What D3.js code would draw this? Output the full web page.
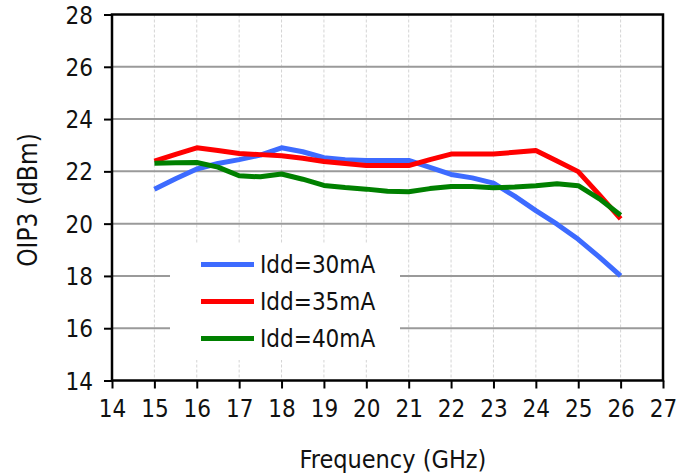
<!DOCTYPE html>
<html><head><meta charset="utf-8">
<script src="https://cdn.jsdelivr.net/npm/d3@7/dist/d3.min.js"></script>
<style>body{margin:0;background:#fff}svg{display:block}text{font-family:"DejaVu Sans Condensed","DejaVu Sans",sans-serif;fill:#111}</style>
</head><body><svg id="c" width="682" height="474"></svg>
<script>
const freqs = [15,15.5,16,16.5,17,17.5,18,18.5,19,19.5,20,20.5,21,21.5,22,22.5,23,23.5,24,24.5,25,25.5,26];
const idd30 = [21.32,21.72,22.09,22.30,22.45,22.62,22.90,22.75,22.52,22.44,22.42,22.42,22.42,22.15,21.88,21.75,21.55,21.05,20.50,19.98,19.40,18.72,18.00];
const idd35 = [22.39,22.65,22.90,22.80,22.68,22.64,22.60,22.50,22.38,22.30,22.22,22.22,22.22,22.45,22.66,22.66,22.66,22.73,22.80,22.40,21.99,21.10,20.18];
const idd40 = [22.31,22.33,22.34,22.16,21.83,21.79,21.90,21.70,21.46,21.38,21.32,21.24,21.22,21.34,21.42,21.42,21.37,21.40,21.45,21.53,21.45,20.95,20.32];
const seriesNames = ["Idd=30mA","Idd=35mA","Idd=40mA"];
const seriesColors = ["#3d6bff","#ff0000","#008000"];
const xTicks = d3.range(14,28,1);
const yTicks = d3.range(14,29,2);

const svg = d3.select("#c");
const L=112,R=663,T=14.5,B=380.5;
const x = d3.scaleLinear().domain([14,27]).range([L,R]);
const y = d3.scaleLinear().domain([14,28]).range([B,T]);

svg.append("g").selectAll("line").data(xTicks.filter(d=>d>14&&d<27)).join("line")
  .attr("x1",d=>x(d)).attr("x2",d=>x(d)).attr("y1",T).attr("y2",B)
  .attr("stroke","#d4d4d4").attr("stroke-width",1).attr("stroke-dasharray","3,2");
svg.append("g").selectAll("line").data(yTicks.filter(d=>d>14&&d<28)).join("line")
  .attr("x1",L).attr("x2",R).attr("y1",d=>y(d)).attr("y2",d=>y(d))
  .attr("stroke","#9a9a9a").attr("stroke-width",2);

const all=[idd30,idd35,idd40];
const line=d3.line().x((d,i)=>x(freqs[i])).y(d=>y(d));
all.forEach((s,k)=>{
  svg.append("path").datum(s).attr("d",line).attr("fill","none")
    .attr("stroke",seriesColors[k]).attr("stroke-width",5).attr("stroke-linejoin","round");
});

const xa=svg.append("g").attr("transform",`translate(0,${B})`)
  .call(d3.axisBottom(x).tickValues(xTicks).tickSize(8).tickPadding(11).tickFormat(d3.format("d")));
const ya=svg.append("g").attr("transform",`translate(${L},0)`)
  .call(d3.axisLeft(y).tickValues(yTicks).tickSize(8).tickPadding(11).tickFormat(d3.format("d")));
[xa,ya].forEach(a=>{a.select(".domain").remove();a.selectAll("line").attr("stroke","#000").attr("stroke-width",2);
  a.selectAll("text").style("font-size","24px").attr("fill","#111");});
ya.selectAll("text").attr("dy","0.36em");
svg.append("rect").attr("x",L).attr("y",T).attr("width",R-L).attr("height",B-T)
  .attr("fill","none").attr("stroke","#000").attr("stroke-width",2.5);

const lg=svg.append("g");
lg.append("rect").attr("x",170).attr("y",243).attr("width",230).attr("height",117).attr("fill","#fff");
seriesNames.forEach((n,k)=>{
  const cy=264.5+k*37;
  lg.append("line").attr("x1",201).attr("x2",254).attr("y1",cy).attr("y2",cy)
    .attr("stroke",seriesColors[k]).attr("stroke-width",5);
  lg.append("text").attr("x",260).attr("y",cy).attr("dy","0.36em").style("font-size","24px").text(n);
});

svg.append("text").attr("x",393).attr("y",468).attr("text-anchor","middle").style("font-size","25px").text("Frequency (GHz)");
svg.append("text").attr("transform","translate(37,200) rotate(-90)").attr("text-anchor","middle").style("font-size","26px").text("OIP3 (dBm)");
</script></body></html>
